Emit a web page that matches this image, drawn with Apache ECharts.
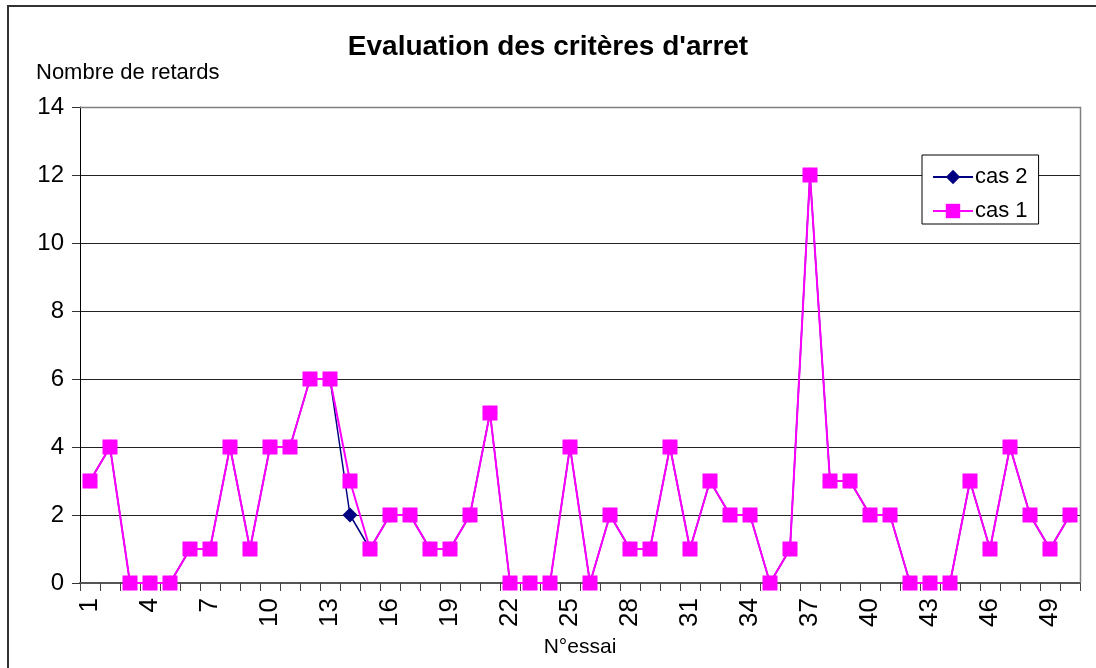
<!DOCTYPE html>
<html>
<head>
<meta charset="utf-8">
<title>Evaluation des critères d'arret</title>
<script src="https://cdn.jsdelivr.net/npm/echarts@6/dist/echarts.min.js"></script>
<style>
  html, body { margin: 0; padding: 0; background: #fff; }
  #chart { width: 1096px; height: 668px; }
</style>
</head>
<body>
<div id="chart"></div>
<script>
// Trial numbers 1..50
const essais = [
  '1','2','3','4','5','6','7','8','9','10',
  '11','12','13','14','15','16','17','18','19','20',
  '21','22','23','24','25','26','27','28','29','30',
  '31','32','33','34','35','36','37','38','39','40',
  '41','42','43','44','45','46','47','48','49','50'
];

// Number of delays per trial, stopping criterion "cas 2"
const cas2 = [
  3, 4, 0, 0, 0, 1, 1, 4, 1, 4,
  4, 6, 6, 2, 1, 2, 2, 1, 1, 2,
  5, 0, 0, 0, 4, 0, 2, 1, 1, 4,
  1, 3, 2, 2, 0, 1, 12, 3, 3, 2,
  2, 0, 0, 0, 3, 1, 4, 2, 1, 2
];

// Number of delays per trial, stopping criterion "cas 1"
const cas1 = [
  3, 4, 0, 0, 0, 1, 1, 4, 1, 4,
  4, 6, 6, 3, 1, 2, 2, 1, 1, 2,
  5, 0, 0, 0, 4, 0, 2, 1, 1, 4,
  1, 3, 2, 2, 0, 1, 12, 3, 3, 2,
  2, 0, 0, 0, 3, 1, 4, 2, 1, 2
];

const chartTitle = "Evaluation des critères d'arret";
const yAxisTitle = 'Nombre de retards';
const xAxisTitle = 'N°essai';

const FONT = '"Liberation Sans", Arial, sans-serif';

const chart = echarts.init(document.getElementById('chart'), null, { renderer: 'canvas' });

chart.setOption({
  backgroundColor: '#ffffff',
  animation: false,
  title: {
    text: chartTitle,
    left: 'center',
    top: 28,
    textStyle: { fontFamily: FONT, fontSize: 28, fontWeight: 'bold', color: '#000' }
  },
  graphic: [
    {
      // outer frame of the chart area
      type: 'rect',
      silent: true,
      shape: { x: 8, y: 6, width: 1200, height: 800 },
      style: { fill: 'none', stroke: '#333', lineWidth: 2 },
      z: 0
    },
    {
      type: 'text',
      left: 36,
      top: 62,
      style: { text: yAxisTitle, font: '22px "Liberation Sans", Arial, sans-serif', fill: '#000' }
    },
    {
      // plot area border (top and right edges)
      type: 'polyline',
      silent: true,
      shape: { points: [[80, 107.5], [1080.5, 107.5], [1080.5, 583]] },
      style: { stroke: '#808080', lineWidth: 1.5, fill: 'none' },
      z: 1
    }
  ],
  legend: {
    orient: 'vertical',
    left: 922,
    top: 155,
    backgroundColor: '#fff',
    borderColor: '#000',
    borderWidth: 1,
    padding: [11, 11, 2, 10],
    itemWidth: 40,
    itemHeight: 18,
    itemGap: 12,
    data: ['cas 2', 'cas 1'],
    textStyle: { fontFamily: FONT, fontSize: 22, color: '#000', padding: [0, 0, 0, -3] }
  },
  grid: {
    left: 80,
    right: 16,
    top: 107,
    bottom: 85,
    containLabel: false
  },
  xAxis: {
    type: 'category',
    data: essais,
    boundaryGap: true,
    name: xAxisTitle,
    nameLocation: 'middle',
    nameGap: 54,
    nameTextStyle: { fontFamily: FONT, fontSize: 21, color: '#000' },
    axisLine: { show: true, lineStyle: { color: '#555', width: 2 } },
    axisTick: { show: true, interval: 0, alignWithLabel: false, length: 8, inside: false, lineStyle: { color: '#444', width: 1 } },
    axisLabel: {
      interval: 2,
      rotate: 90,
      margin: 15,
      fontFamily: FONT,
      fontSize: 26,
      color: '#000'
    },
    splitLine: { show: false }
  },
  yAxis: {
    type: 'value',
    min: 0,
    max: 14,
    interval: 2,
    axisLine: { show: true, lineStyle: { color: '#000', width: 1 } },
    axisTick: { show: true, length: 8, lineStyle: { color: '#333' } },
    axisLabel: { margin: 16, fontFamily: FONT, fontSize: 24, color: '#000' },
    splitLine: { show: true, lineStyle: { color: '#222', width: 1 } }
  },
  series: [
    {
      name: 'cas 2',
      type: 'line',
      data: cas2,
      symbol: 'diamond',
      symbolSize: 15,
      showAllSymbol: true,
      itemStyle: { color: '#000080' },
      lineStyle: { color: '#000080', width: 1.5 },
      z: 2
    },
    {
      name: 'cas 1',
      type: 'line',
      data: cas1,
      symbol: 'rect',
      symbolSize: 15,
      showAllSymbol: true,
      itemStyle: { color: '#ff00ff' },
      lineStyle: { color: '#ff00ff', width: 2 },
      z: 3
    }
  ]
});
</script>
</body>
</html>
